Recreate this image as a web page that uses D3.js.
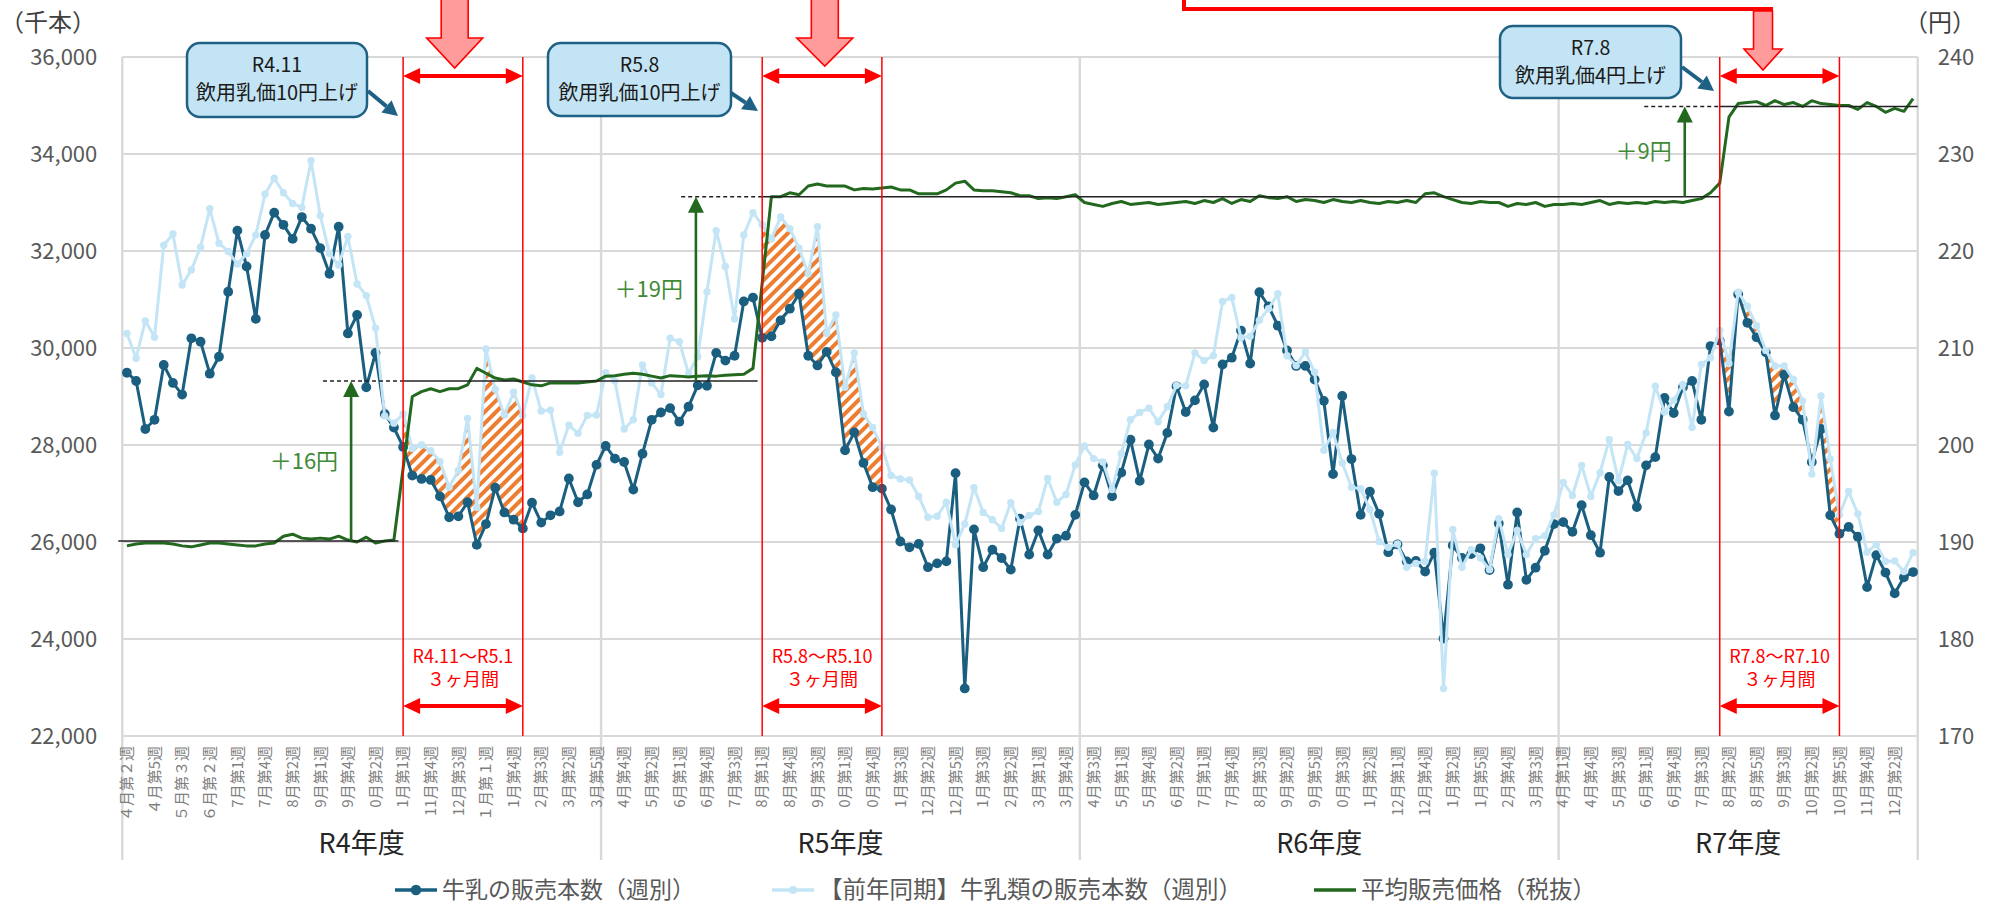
<!DOCTYPE html>
<html lang="ja">
<head>
<meta charset="utf-8">
<title>牛乳の販売本数と平均販売価格</title>
<script src="https://cdn.jsdelivr.net/npm/d3@7/dist/d3.min.js"></script>
<style>
html,body{margin:0;padding:0;background:#fff;}
svg{display:block;}
</style>
</head>
<body>
<svg id="chart" width="1997" height="908"></svg>
<script>
// ================= DATA =================
const fiscalYears = ["R4年度", "R5年度", "R6年度", "R7年度"];
const weeksPerYear = [52, 52, 52, 39];

const weeks = [
  // R4
  "4月第2週","4月第3週","4月第4週","4月第5週","5月第1週","5月第2週","5月第3週","5月第4週","6月第1週","6月第2週",
  "6月第3週","6月第4週","7月第1週","7月第2週","7月第3週","7月第4週","7月第5週","8月第1週","8月第2週","8月第3週",
  "8月第4週","9月第1週","9月第2週","9月第3週","9月第4週","9月第5週","10月第1週","10月第2週","10月第3週","10月第4週",
  "11月第1週","11月第2週","11月第3週","11月第4週","12月第1週","12月第2週","12月第3週","12月第4週","12月第5週","1月第1週",
  "1月第2週","1月第3週","1月第4週","2月第1週","2月第2週","2月第3週","2月第4週","3月第1週","3月第2週","3月第3週",
  "3月第4週","3月第5週",
  // R5
  "4月第2週","4月第3週","4月第4週","4月第5週","5月第1週","5月第2週","5月第3週","5月第4週","6月第1週","6月第2週",
  "6月第3週","6月第4週","7月第1週","7月第2週","7月第3週","7月第4週","7月第5週","8月第1週","8月第2週","8月第3週",
  "8月第4週","9月第1週","9月第2週","9月第3週","9月第4週","9月第5週","10月第1週","10月第2週","10月第3週","10月第4週",
  "11月第1週","11月第2週","11月第3週","11月第4週","12月第1週","12月第2週","12月第3週","12月第4週","12月第5週","1月第1週",
  "1月第2週","1月第3週","1月第4週","2月第1週","2月第2週","2月第3週","2月第4週","3月第1週","3月第2週","3月第3週",
  "3月第4週","3月第5週",
  // R6
  "4月第2週","4月第3週","4月第4週","4月第5週","5月第1週","5月第2週","5月第3週","5月第4週","5月第5週","6月第1週",
  "6月第2週","6月第3週","6月第4週","7月第1週","7月第2週","7月第3週","7月第4週","8月第1週","8月第2週","8月第3週",
  "8月第4週","9月第1週","9月第2週","9月第3週","9月第4週","9月第5週","10月第1週","10月第2週","10月第3週","10月第4週",
  "11月第1週","11月第2週","11月第3週","11月第4週","12月第1週","12月第2週","12月第3週","12月第4週","12月第5週","1月第1週",
  "1月第2週","1月第3週","1月第4週","1月第5週","2月第2週","2月第3週","2月第4週","3月第1週","3月第2週","3月第3週",
  "3月第4週","3月第5週",
  // R7
  "4月第1週","4月第2週","4月第3週","4月第4週","5月第1週","5月第2週","5月第3週","5月第4週","5月第5週","6月第1週",
  "6月第2週","6月第3週","6月第4週","7月第1週","7月第2週","7月第3週","7月第4週","8月第1週","8月第2週","8月第3週",
  "8月第4週","8月第5週","9月第1週","9月第2週","9月第3週","9月第4週","10月第1週","10月第2週","10月第3週","10月第4週",
  "10月第5週","11月第2週","11月第3週","11月第4週","11月第5週","12月第1週","12月第2週","12月第3週","12月第4週"
];

// axis text exactly as it appears (every 3rd week)
const tickLabels = [
  "４月第２週","４月第5週","５月第３週","６月第２週","7月第1週","7月第4週","8月第2週","9月第1週","9月第4週","0月第2週",
  "1月第1週","11月第4週","12月第3週","１月第１週","1月第4週","2月第3週","3月第2週","3月第5週",
  "4月第4週","5月第2週","6月第1週","6月第4週","7月第3週","8月第1週","8月第4週","9月第3週","0月第1週","0月第4週",
  "1月第3週","12月第2週","12月第5週","1月第3週","2月第2週","3月第1週","3月第4週",
  "4月第3週","5月第1週","5月第4週","6月第2週","7月第1週","7月第4週","8月第3週","9月第2週","9月第5週","0月第3週",
  "1月第2週","12月第1週","12月第4週","1月第2週","1月第5週","2月第4週","3月第3週",
  "4月第1週","4月第4週","5月第3週","6月第1週","6月第4週","7月第3週","8月第2週","8月第5週","9月第3週","10月第2週",
  "10月第5週","11月第4週","12月第2週"
];

// 牛乳の販売本数（週別）, thousand bottles
const milkSales = [
  29490,29320,28330,28520,29650,29280,29040,30200,30130,29470,29820,31160,32420,31680,30600,32330,32790,32540,32250,32700,
  32460,32060,31530,32500,30300,30680,29190,29900,28640,28360,27960,27370,27300,27280,26940,26510,26530,26820,25940,26370,
  27120,26610,26460,26280,26810,26400,26550,26630,27310,26820,26980,27590,
  27980,27720,27650,27080,27820,28520,28670,28760,28480,28790,29230,29220,29900,29740,29840,30960,31040,30210,30240,30570,
  30810,31120,29840,29640,29920,29500,27890,28260,27630,27130,27100,26670,26010,25890,25960,25480,25560,25600,27420,22980,
  26260,25480,25840,25670,25430,26480,25740,26240,25740,26070,26130,26560,
  27230,26960,27580,26940,27430,28110,27260,28010,27720,28250,29210,28680,28920,29250,28360,29660,29800,30360,29680,31150,
  30860,30460,29950,29630,29630,29350,28910,27400,29010,27710,26560,27040,26580,25790,25950,25600,25610,25390,25780,24010,
  25930,25670,25750,25870,25420,26380,25120,26610,25220,25470,25820,26370,
  26410,26210,26760,26140,25780,27340,27050,27270,26720,27580,27750,28970,28660,29190,29320,28520,30040,30150,28690,31110,
  30520,30220,29910,28610,29450,28780,28520,27650,28330,26550,26170,26310,26110,25070,25730,25370,24940,25270,25380
];

// 【前年同期】牛乳類の販売本数（週別）, thousand bottles
const prevYearSales = [
  30300,29790,30560,30220,32120,32350,31300,31610,32080,32870,32160,31990,31730,31940,32330,33170,33500,33200,32980,32900,
  33860,32730,31950,31710,32300,31320,31080,30410,28600,28450,28640,27930,28000,27880,27660,27130,27480,28550,26710,29980,
  29150,28620,29090,28610,29380,28700,28720,27850,28410,28240,28610,28620,
  29490,29320,28330,28520,29650,29280,29040,30200,30130,29470,29820,31160,32420,31680,30600,32330,32790,32540,32250,32700,
  32460,32060,31530,32500,30300,30680,29190,29900,28640,28360,27960,27370,27300,27280,26940,26510,26530,26820,25940,26370,
  27120,26610,26460,26280,26810,26400,26550,26630,27310,26820,26980,27590,
  27980,27720,27650,27080,27820,28520,28670,28760,28480,28790,29230,29220,29900,29740,29840,30960,31040,30210,30240,30570,
  30810,31120,29840,29640,29920,29500,27890,28260,27630,27130,27100,26670,26010,25890,25960,25480,25560,25600,27420,22980,
  26260,25480,25840,25670,25430,26480,25740,26240,25740,26070,26130,26560,
  27230,26960,27580,26940,27430,28110,27260,28010,27720,28250,29210,28680,28920,29250,28360,29660,29800,30360,29680,31150,
  30860,30460,29950,29630,29630,29350,28910,27400,29010,27710,26560,27040,26580,25790,25950,25600,25610,25390,25780
];

// 平均販売価格（税抜）, yen
const avgPrice = [
  189.6,189.8,189.9,189.9,189.9,189.8,189.6,189.5,189.7,189.9,189.9,189.8,189.7,189.6,189.6,189.8,189.9,190.6,190.8,190.4,
  190.3,190.4,190.3,190.6,190.2,190.0,190.5,189.9,190.1,190.2,197.6,205.0,205.5,205.8,205.5,205.8,205.8,206.2,207.9,207.4,
  206.9,206.7,206.8,206.5,206.2,206.1,206.4,206.4,206.4,206.4,206.5,206.6,
  207.1,207.15,207.3,207.4,207.3,207.1,206.9,207.15,207.1,207.0,207.1,207.15,207.1,207.2,207.25,207.3,207.9,216.7,225.6,225.6,
  226.0,225.8,226.7,226.9,226.7,226.7,226.7,226.3,226.45,226.4,226.5,226.6,226.3,226.3,225.9,225.9,225.9,226.3,227.0,227.2,
  226.3,226.2,226.2,226.1,226.0,225.7,225.7,225.4,225.5,225.4,225.6,225.8,
  225.0,224.8,224.6,224.9,225.1,224.8,224.9,225.0,224.8,224.9,225.0,225.1,224.9,225.2,225.0,225.4,224.9,225.3,225.1,225.7,
  225.5,225.4,225.6,225.1,225.3,225.2,225.0,225.3,225.1,225.0,225.2,225.0,224.9,225.1,225.0,225.2,225.0,225.9,226.0,225.6,
  225.3,225.0,224.9,225.1,225.0,225.0,224.6,224.9,224.8,225.0,224.6,224.8,
  224.8,224.9,224.8,225.0,225.2,224.8,225.0,224.9,225.0,224.9,225.1,225.0,225.1,225.0,225.2,225.4,226.0,227.0,233.8,235.2,
  235.3,235.4,235.0,235.5,235.1,235.3,234.9,235.5,235.2,235.1,235.0,235.0,234.6,235.3,234.9,234.3,234.7,234.4,235.7
];

const leftTicks = [22000, 24000, 26000, 28000, 30000, 32000, 34000, 36000];
const rightTicks = [170, 180, 190, 200, 210, 220, 230, 240];

// price-increase windows (week indices) and price steps
const windows = [
  { from: 30, to: 43, label: "R4.11〜R5.1" },
  { from: 69, to: 82, label: "R5.8〜R5.10" },
  { from: 173, to: 186, label: "R7.8〜R7.10" }
];
const priceLevels = [190.1, 206.6, 225.6, 234.9];
const priceRiseLabels = ["＋16円", "＋19円", "＋9円"];
const boxTitles = ["R4.11", "R5.8", "R7.8"];
const boxTexts = ["飲用乳価10円上げ", "飲用乳価10円上げ", "飲用乳価4円上げ"];
const legendLabels = ["牛乳の販売本数（週別）", "【前年同期】牛乳類の販売本数（週別）", "平均販売価格（税抜）"];

// ================= CHART =================
const FONT = '"Noto Sans CJK JP","Noto Sans JP","Noto Sans",sans-serif';
const DARK = "#1a5e80", LIGHT = "#c3e5f6", GREEN = "#22691f", GRID = "#d9d9d9";
const HATCH = "#ed7d31", RED = "#ff0000", TEAL = "#1f6184", BOXFILL = "#c3e4f4";

const svg = d3.select("#chart").attr("font-family", FONT);
const n = milkSales.length;
const plotL = 122.3, plotR = 1917.7, plotT = 57, plotB = 736;

const x = d3.scaleBand().domain(d3.range(n)).range([plotL, plotR]).paddingInner(0).paddingOuter(0);
const bw = x.bandwidth();
const xc = i => x(i) + bw / 2;
const xi = f => plotL + f * bw;   // fractional band position for annotations
const yL = d3.scaleLinear().domain([22000, 36000]).range([plotB, plotT]);
const yR = d3.scaleLinear().domain([170, 240]).range([plotB, plotT]);

// defs
const defs = svg.append("defs");
const pat = defs.append("pattern").attr("id", "hatch").attr("patternUnits", "userSpaceOnUse")
  .attr("width", 8).attr("height", 8).attr("patternTransform", "rotate(45)");
pat.append("rect").attr("width", 8).attr("height", 8).attr("fill", "#fff");
pat.append("line").attr("x1", 2).attr("y1", 0).attr("x2", 2).attr("y2", 8)
  .attr("stroke", HATCH).attr("stroke-width", 4);

// horizontal gridlines
svg.append("g").selectAll("line").data(leftTicks).join("line")
  .attr("x1", plotL).attr("x2", plotR)
  .attr("y1", d => yL(d)).attr("y2", d => yL(d))
  .attr("stroke", GRID).attr("stroke-width", 1.8);

// fiscal year separators
const yearStarts = [0];
weeksPerYear.forEach((c, k) => yearStarts.push(yearStarts[k] + c));
const sepX = yearStarts.map(s => s < n ? x(s) : plotR);
svg.append("g").selectAll("line").data(sepX).join("line")
  .attr("x1", d => d).attr("x2", d => d).attr("y1", plotT).attr("y2", 860)
  .attr("stroke", GRID).attr("stroke-width", 2.4);

// year labels
svg.append("g").selectAll("text").data(fiscalYears).join("text")
  .attr("x", (d, k) => (sepX[k] + sepX[k + 1]) / 2).attr("y", 853)
  .attr("text-anchor", "middle").attr("font-size", 27).attr("fill", "#262626").text(d => d);

// left axis
const gL = svg.append("g").attr("transform", `translate(${plotL},0)`)
  .call(d3.axisLeft(yL).tickValues(leftTicks).tickFormat(d3.format(",")).tickSize(0).tickPadding(25));
gL.select(".domain").remove();
gL.attr("font-family", FONT).attr("font-size", 22);
gL.selectAll("text").attr("fill", "#595959");

// right axis
const gR = svg.append("g").attr("transform", `translate(${plotR},0)`)
  .call(d3.axisRight(yR).tickValues(rightTicks).tickSize(0).tickPadding(20));
gR.select(".domain").remove();
gR.attr("font-family", FONT).attr("font-size", 22);
gR.selectAll("text").attr("fill", "#595959");

// unit labels
svg.append("text").attr("x", 0).attr("y", 31).attr("font-size", 24).attr("fill", "#404040").text("（千本）");
svg.append("text").attr("x", 1904).attr("y", 31).attr("font-size", 24).attr("fill", "#404040").text("（円）");

// x axis
const gx = svg.append("g").attr("transform", `translate(0,${plotB})`)
  .call(d3.axisBottom(x).tickValues(d3.range(0, n, 3)).tickSize(0).tickFormat(d => tickLabels[d / 3]));
gx.select(".domain").remove();
gx.attr("font-family", FONT).attr("font-size", 15);
gx.selectAll("text").attr("fill", "#7f7f7f").attr("transform", "rotate(-90)")
  .attr("x", -10).attr("y", 0).attr("dy", "0.35em").attr("text-anchor", "end");

// hatched areas
const hatchArea = d3.area()
  .x(i => xc(i))
  .y0(i => yL(milkSales[i]))
  .y1(i => yL(Math.max(milkSales[i], prevYearSales[i])));
svg.append("g").selectAll("path").data(windows).join("path")
  .attr("d", w => hatchArea(d3.range(w.from, w.to + 1)))
  .attr("fill", "url(#hatch)");

// series
const idx = d3.range(n);
const lineSales = d3.line().x(i => xc(i)).y(i => yL(milkSales[i]));
const linePrev = d3.line().x(i => xc(i)).y(i => yL(prevYearSales[i]));
const linePrice = d3.line().x(i => xc(i)).y(i => yR(avgPrice[i]));

svg.append("path").attr("d", lineSales(idx)).attr("fill", "none").attr("stroke", DARK)
  .attr("stroke-width", 3).attr("stroke-linejoin", "round");
svg.append("g").selectAll("circle").data(idx).join("circle")
  .attr("cx", i => xc(i)).attr("cy", i => yL(milkSales[i])).attr("r", 4.9).attr("fill", DARK);

svg.append("path").attr("d", linePrev(idx)).attr("fill", "none").attr("stroke", LIGHT)
  .attr("stroke-width", 3).attr("stroke-linejoin", "round");
svg.append("g").selectAll("circle").data(idx).join("circle")
  .attr("cx", i => xc(i)).attr("cy", i => yL(prevYearSales[i])).attr("r", 3.7).attr("fill", LIGHT);

svg.append("path").attr("d", linePrice(idx)).attr("fill", "none").attr("stroke", GREEN)
  .attr("stroke-width", 3).attr("stroke-linejoin", "round");

// ---- price step reference lines ----
const ref = svg.append("g").attr("stroke", "#222").attr("stroke-width", 1.6);
function hline(x1, x2, p, dashed) {
  ref.append("line").attr("x1", x1).attr("x2", x2).attr("y1", yR(p)).attr("y2", yR(p))
    .attr("stroke-dasharray", dashed ? "4,3" : null);
}
hline(plotL - 4, x(windows[0].from), priceLevels[0], false);
hline(xi(21.8), xc(windows[0].from), priceLevels[1], true);
hline(xc(windows[0].from), x(windows[1].from), priceLevels[1], false);
hline(xi(60.7), xc(windows[1].from), priceLevels[2], true);
hline(xc(windows[1].from), xc(windows[2].from), priceLevels[2], false);
hline(xi(165.3), xc(windows[2].from), priceLevels[3], true);
hline(xc(windows[2].from), plotR, priceLevels[3], false);

// green rise arrows
const riseX = [xi(24.85), xi(62.3), xi(169.7)];
riseX.forEach((ax, k) => {
  const y0 = yR(priceLevels[k]), y1 = yR(priceLevels[k + 1]);
  svg.append("line").attr("x1", ax).attr("x2", ax).attr("y1", y0).attr("y2", y1 + 12)
    .attr("stroke", GREEN).attr("stroke-width", 2.6);
  svg.append("path").attr("d", `M${ax - 8},${y1 + 16} L${ax + 8},${y1 + 16} L${ax},${y1} Z`).attr("fill", GREEN);
  svg.append("text").attr("x", ax - 13).attr("y", (y0 + y1) / 2).attr("dy", "0.35em")
    .attr("text-anchor", "end").attr("font-size", 22).attr("fill", "#3e8a36").text(priceRiseLabels[k]);
});

// ---- windows: red lines, double arrows, labels ----
function dblArrow(xa, xb, y) {
  const g = svg.append("g");
  g.append("line").attr("x1", xa + 14).attr("x2", xb - 14).attr("y1", y).attr("y2", y)
    .attr("stroke", RED).attr("stroke-width", 4);
  g.append("path").attr("d", `M${xa},${y} L${xa + 17},${y - 8} L${xa + 17},${y + 8} Z`).attr("fill", RED);
  g.append("path").attr("d", `M${xb},${y} L${xb - 17},${y - 8} L${xb - 17},${y + 8} Z`).attr("fill", RED);
}
windows.forEach(w => {
  const xa = xc(w.from), xb = xc(w.to);
  [xa, xb].forEach(xx => svg.append("line").attr("x1", xx).attr("x2", xx).attr("y1", plotT).attr("y2", plotB)
    .attr("stroke", RED).attr("stroke-width", 1.5));
  dblArrow(xa, xb, 76);
  dblArrow(xa, xb, 706);
  const mx = (xa + xb) / 2;
  svg.append("text").attr("x", mx).attr("y", 663).attr("text-anchor", "middle").attr("font-size", 18)
    .attr("fill", RED).text(w.label);
  svg.append("text").attr("x", mx).attr("y", 686).attr("text-anchor", "middle").attr("font-size", 18)
    .attr("fill", RED).text("３ヶ月間");
});

// ---- pink block arrows ----
function blockArrow(cx, top, headTop, tip, shaftHalf, headHalf) {
  svg.append("path").attr("d",
    `M${cx - shaftHalf},${top} L${cx + shaftHalf},${top} L${cx + shaftHalf},${headTop} L${cx + headHalf},${headTop} ` +
    `L${cx},${tip} L${cx - headHalf},${headTop} L${cx - shaftHalf},${headTop} Z`)
    .attr("fill", "#ff9b9b").attr("stroke", RED).attr("stroke-width", 1.6);
}
blockArrow(xi(36.1), -2, 38, 68, 13.5, 28);
blockArrow(xi(76.3), -2, 38, 66, 13.5, 28);
// elbow connector + arrow for R7.8
svg.append("path").attr("d", `M1184,0 V9 H${xi(178.2) + 10}`).attr("fill", "none")
  .attr("stroke", RED).attr("stroke-width", 4);
blockArrow(xi(178.2), 11, 49, 70, 9.5, 19);

// ---- callout boxes ----
const boxes = [
  { x: 187, y: 43, w: 180, h: 74, ax1: 368, ay1: 91, ax2: 398, ay2: 116 },
  { x: 548, y: 43, w: 183, h: 73, ax1: 731, ay1: 93, ax2: 758, ay2: 111 },
  { x: 1500, y: 26, w: 181, h: 72, ax1: 1682, ay1: 67, ax2: 1714, ay2: 91 }
];
boxes.forEach((b, k) => {
  svg.append("rect").attr("x", b.x).attr("y", b.y).attr("width", b.w).attr("height", b.h)
    .attr("rx", 13).attr("fill", BOXFILL).attr("stroke", TEAL).attr("stroke-width", 2.5);
  svg.append("text").attr("x", b.x + b.w / 2).attr("y", b.y + 22).attr("dy", "0.35em")
    .attr("text-anchor", "middle").attr("font-size", 19.5).attr("fill", "#1a1a1a").text(boxTitles[k]);
  svg.append("text").attr("x", b.x + b.w / 2).attr("y", b.y + 50).attr("dy", "0.35em")
    .attr("text-anchor", "middle").attr("font-size", 20).attr("fill", "#1a1a1a").text(boxTexts[k]);
  // teal arrow
  const ang = Math.atan2(b.ay2 - b.ay1, b.ax2 - b.ax1);
  const hl = 15, hw = 8;
  const bx = b.ax2 - hl * Math.cos(ang), by = b.ay2 - hl * Math.sin(ang);
  svg.append("line").attr("x1", b.ax1).attr("y1", b.ay1).attr("x2", bx).attr("y2", by)
    .attr("stroke", TEAL).attr("stroke-width", 4);
  svg.append("path").attr("d",
    `M${b.ax2},${b.ay2} L${bx - hw * Math.sin(ang)},${by + hw * Math.cos(ang)} L${bx + hw * Math.sin(ang)},${by - hw * Math.cos(ang)} Z`)
    .attr("fill", TEAL);
});

// ---- legend ----
const legendX = [395, 772, 1314];
const legendColors = [DARK, LIGHT, GREEN];
const legendR = [4.8, 3.6, 0];
const legendFont = [23, 23.5, 23.5];
const ly = 890;
legendLabels.forEach((lab, k) => {
  const lx = legendX[k];
  svg.append("line").attr("x1", lx).attr("x2", lx + 42).attr("y1", ly).attr("y2", ly)
    .attr("stroke", legendColors[k]).attr("stroke-width", 3.5);
  if (legendR[k] > 0) svg.append("circle").attr("cx", lx + 21).attr("cy", ly).attr("r", legendR[k] + 0.5).attr("fill", legendColors[k]);
  svg.append("text").attr("x", lx + 47).attr("y", ly).attr("dy", "0.36em").attr("font-size", legendFont[k])
    .attr("fill", "#595959").text(lab);
});
</script>
</body>
</html>
